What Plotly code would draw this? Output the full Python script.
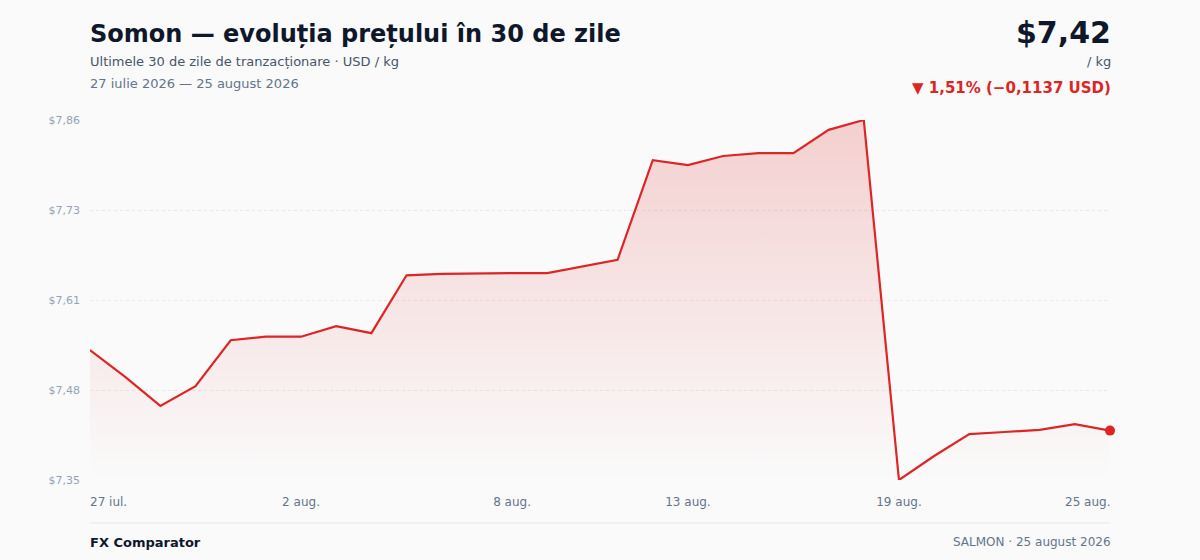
import plotly.graph_objects as go
import pandas as pd

# daily prices, USD / kg
dates = pd.date_range("2026-07-27", "2026-08-25", freq="D")
prices = [7.534, 7.496, 7.455, 7.483, 7.548, 7.553, 7.553, 7.568, 7.558, 7.640,
          7.642, 7.643, 7.643, 7.643, 7.653, 7.662, 7.803, 7.796, 7.809, 7.813,
          7.813, 7.846, 7.860, 7.350, 7.384, 7.415, 7.418, 7.421, 7.429, 7.420]

y_ticks = [7.35, 7.4775, 7.605, 7.7325, 7.86]
y_labels = ["$7,35", "$7,48", "$7,61", "$7,73", "$7,86"]
x_ticks = ["2026-07-27", "2026-08-02", "2026-08-08", "2026-08-13", "2026-08-19", "2026-08-25"]
x_labels = ["27 iul.", "2 aug.", "8 aug.", "13 aug.", "19 aug.", "25 aug."]

RED = "#dc2626"
FONT = "DejaVu Sans"

fig = go.Figure()
fig.add_trace(go.Scatter(
    x=dates, y=prices, mode="lines", fill="tozeroy",
    line=dict(color=RED, width=2.2),
    fillgradient=dict(type="vertical", start=y_ticks[0], stop=y_ticks[-1],
                      colorscale=[[0, "rgba(220,38,38,0.0)"], [1, "rgba(220,38,38,0.2)"]]),
    cliponaxis=False, hoverinfo="x+y", showlegend=False,
))
fig.add_trace(go.Scatter(
    x=[dates[-1]], y=[prices[-1]], mode="markers",
    marker=dict(color=RED, size=10), cliponaxis=False, showlegend=False,
))

fig.update_xaxes(
    range=[dates[0], dates[-1]], tickvals=x_ticks[1:-1], ticktext=x_labels[1:-1],
    showgrid=False, zeroline=False, showline=False, ticks="",
    tickfont=dict(family=FONT, size=12, color="#64748b"), ticklabelstandoff=13,
)
fig.update_yaxes(
    range=[y_ticks[0], y_ticks[-1]], tickvals=y_ticks, ticktext=y_labels,
    showgrid=True, gridcolor="#e8e8ec", griddash="dot", gridwidth=1,
    zeroline=False, showline=False, ticks="",
    tickfont=dict(family=FONT, size=11, color="#94a3b8"), ticklabelstandoff=9,
)

ann = [
    # edge tick labels, aligned to the plot edges
    dict(x=x_ticks[0], y=0, xref="x", yref="paper", text=x_labels[0], xanchor="left", yanchor="middle",
         yshift=-22, xshift=-2, showarrow=False, font=dict(family=FONT, size=12, color="#64748b")),
    dict(x=x_ticks[-1], y=0, xref="x", yref="paper", text=x_labels[-1], xanchor="right", yanchor="middle",
         yshift=-22, xshift=2, showarrow=False, font=dict(family=FONT, size=12, color="#64748b")),
    # header
    dict(x=90, y=34, text="<b>Somon — evoluția prețului în 30 de zile</b>", xanchor="left",
         font=dict(family=FONT, size=24, color="#0f172a")),
    dict(x=90, y=62, text="Ultimele 30 de zile de tranzacționare · USD / kg", xanchor="left",
         font=dict(family=FONT, size=13, color="#475569")),
    dict(x=90, y=84, text="27 iulie 2026 — 25 august 2026", xanchor="left",
         font=dict(family=FONT, size=13, color="#64748b")),
    dict(x=1110, y=32, text="<b>$7,42</b>", xanchor="right",
         font=dict(family=FONT, size=30, color="#0f172a")),
    dict(x=1110, y=62, text="/ kg", xanchor="right",
         font=dict(family=FONT, size=13, color="#475569")),
    dict(x=1110, y=88, text="<b>▼ 1,51% (−0,1137 USD)</b>", xanchor="right",
         font=dict(family=FONT, size=15, color=RED)),
    # footer
    dict(x=90, y=542, text="<b>FX Comparator</b>", xanchor="left",
         font=dict(family=FONT, size=13, color="#0f172a")),
    dict(x=1110, y=542, text="SALMON · 25 august 2026", xanchor="right",
         font=dict(family=FONT, size=12, color="#64748b")),
]
# convert header/footer pixel positions to paper coords
H, W = 560, 1200
ML, MR, MT, MB = 90, 90, 120, 80
for a in ann[2:]:
    a["xshift"] = -2 if a["xanchor"] == "left" else 3
    a["xref"] = "paper"
    a["yref"] = "paper"
    a["x"] = (a["x"] - ML) / (W - ML - MR)
    a["y"] = (H - MB - a["y"]) / (H - MT - MB)
    a["yanchor"] = "middle"
    a["showarrow"] = False

fig.update_layout(
    width=W, height=H,
    margin=dict(l=ML, r=MR, t=MT, b=MB),
    paper_bgcolor="#fafafa", plot_bgcolor="#fafafa",
    font=dict(family=FONT),
    annotations=ann,
    shapes=[dict(type="line", xref="paper", yref="paper", x0=0, x1=1,
                 y0=(H - MB - 523) / (H - MT - MB), y1=(H - MB - 523) / (H - MT - MB),
                 line=dict(color="#e5e7eb", width=1))],
)

fig.write_html("out.html", config={"displayModeBar": False},
               post_script="document.body.style.margin='0';document.body.style.background='#fafafa';")
